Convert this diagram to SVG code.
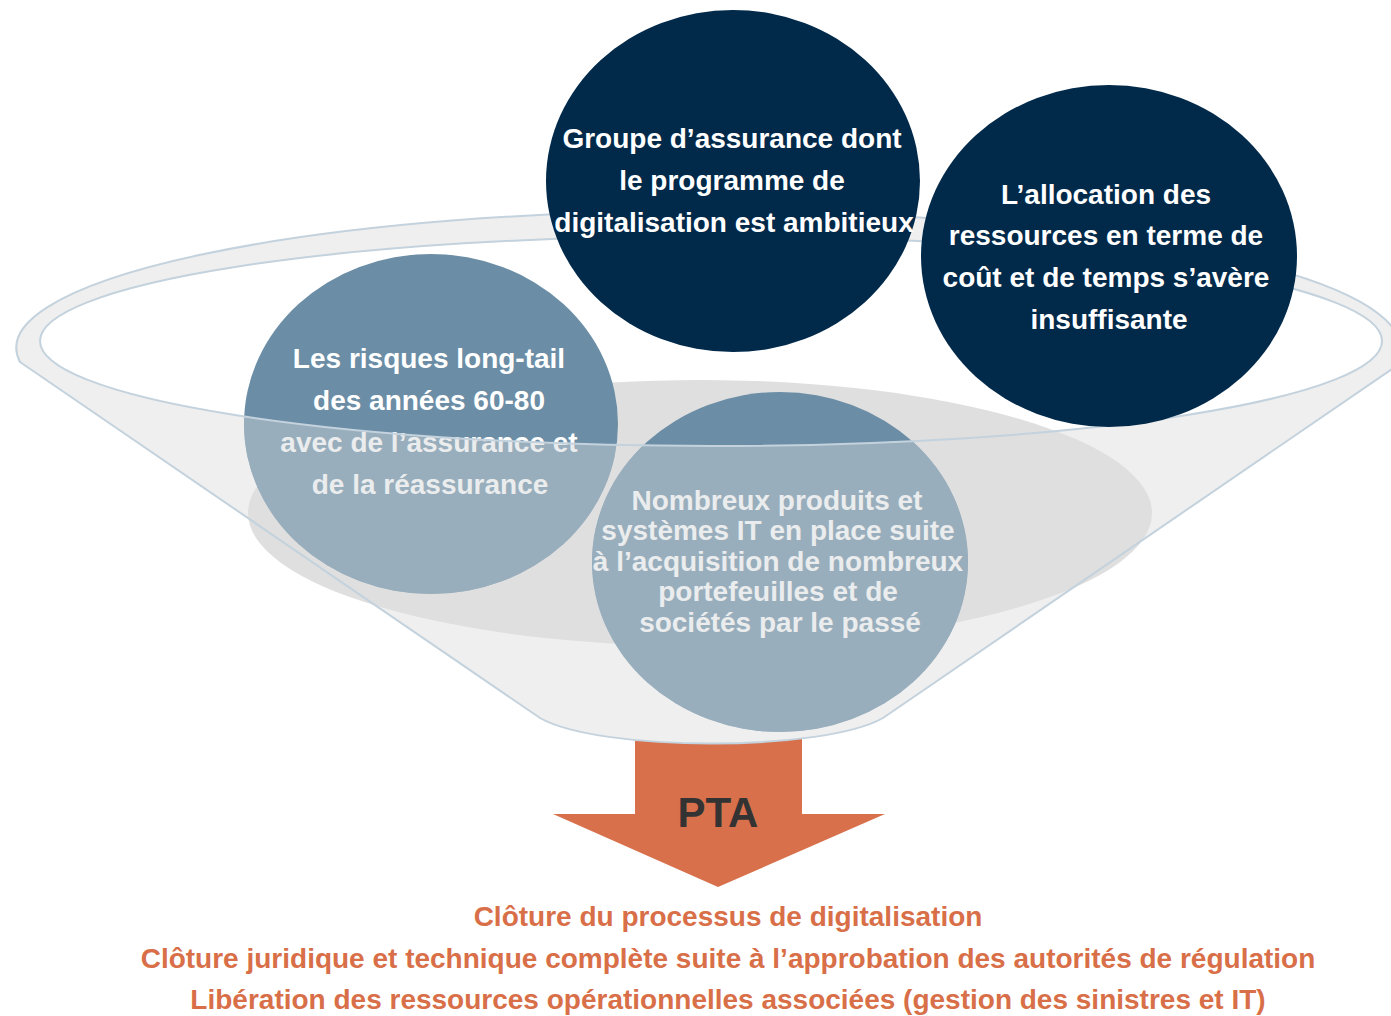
<svg xmlns="http://www.w3.org/2000/svg" width="1391" height="1016" viewBox="0 0 1391 1016">
  <defs>
    <style>
      .txt { font-family: "Liberation Sans", Arial, sans-serif; font-weight: bold; text-anchor: middle; }
      .lbl { font-size: 28px; fill: #ffffff; }
      .out { font-size: 28px; fill: #d86f48; }
      .edge { fill: none; stroke: #c3d2dd; stroke-width: 2; }
      .dark { fill: #01294a; }
      .steel { fill: #6b8ea6; }
    </style>
    <!-- both steel-blue discs, used to limit the funnel's front wash -->
    <clipPath id="steelDiscs">
      <ellipse cx="431" cy="424" rx="187" ry="170"/>
      <ellipse cx="780" cy="562" rx="188" ry="170"/>
    </clipPath>
  </defs>

  <rect width="1391" height="1016" fill="#ffffff"/>

  <!-- output arrow, sitting under the funnel spout -->
  <g id="arrow">
    <polygon points="635,736 802,736 802,814 885,814 718,887 553,814 635,814" fill="#d7704b"/>
  </g>

  <!-- funnel: body, opening and contents -->
  <g id="funnel">
    <path id="funnel-body" d="M 20 362 L 540 718 C 600 752 823 752 883 718 L 1392 369 A 692 137 0 1 0 20 362 Z" fill="#efefef"/>
    <ellipse id="funnel-opening" cx="711" cy="341" rx="671" ry="105" fill="#ffffff"/>
    <ellipse id="funnel-contents" cx="700" cy="513" rx="452" ry="133" fill="#dfdfdf"/>
  </g>

  <!-- steel-blue factors dropped into the funnel -->
  <g id="node-longtail">
    <ellipse class="steel" cx="431" cy="424" rx="187" ry="170"/>
    <text class="txt lbl" x="429" y="368">Les risques long-tail</text>
    <text class="txt lbl" x="429" y="410">des années 60-80</text>
    <text class="txt lbl" x="429" y="452">avec de l’assurance et</text>
    <text class="txt lbl" x="430" y="494">de la réassurance</text>
  </g>

  <g id="node-legacy">
    <ellipse class="steel" cx="780" cy="562" rx="188" ry="170"/>
    <text class="txt lbl" x="777" y="510">Nombreux produits et</text>
    <text class="txt lbl" x="778" y="540">systèmes IT en place suite</text>
    <text class="txt lbl" x="778" y="571">à l’acquisition de nombreux</text>
    <text class="txt lbl" x="778" y="601">portefeuilles et de</text>
    <text class="txt lbl" x="780" y="632">sociétés par le passé</text>
  </g>

  <!-- front wall of the funnel, washing whatever lies below the rim -->
  <path id="funnel-front" d="M 40 341 A 671 105 0 0 0 1382 341 L 1391 1016 L 0 1016 Z"
        fill="#d0d4d6" fill-opacity="0.45" clip-path="url(#steelDiscs)"/>

  <!-- funnel outlines -->
  <g id="connectors">
    <path class="edge" d="M 20 362 L 540 718 C 600 752 823 752 883 718 L 1392 369 A 692 137 0 1 0 20 362 Z"/>
    <ellipse class="edge" cx="711" cy="341" rx="671" ry="105"/>
  </g>

  <!-- navy factors resting on the rim -->
  <g id="node-digital">
    <ellipse class="dark" cx="733" cy="181" rx="187" ry="171"/>
    <text class="txt lbl" x="732" y="148">Groupe d’assurance dont</text>
    <text class="txt lbl" x="732" y="190">le programme de</text>
    <text class="txt lbl" x="734" y="232">digitalisation est ambitieux</text>
  </g>

  <g id="node-resources">
    <ellipse class="dark" cx="1109" cy="256" rx="188" ry="171"/>
    <text class="txt lbl" x="1106" y="204">L’allocation des</text>
    <text class="txt lbl" x="1106" y="245">ressources en terme de</text>
    <text class="txt lbl" x="1106" y="287">coût et de temps s’avère</text>
    <text class="txt lbl" x="1109" y="329">insuffisante</text>
  </g>

  <g id="node-pta">
    <text class="txt" x="718" y="827" font-size="42" fill="#333333">PTA</text>
  </g>

  <!-- outcomes -->
  <g id="outcomes">
    <text class="txt out" x="728" y="926">Clôture du processus de digitalisation</text>
    <text class="txt out" x="728" y="968">Clôture juridique et technique complète suite à l’approbation des autorités de régulation</text>
    <text class="txt out" x="728" y="1009">Libération des ressources opérationnelles associées (gestion des sinistres et IT)</text>
  </g>
</svg>
